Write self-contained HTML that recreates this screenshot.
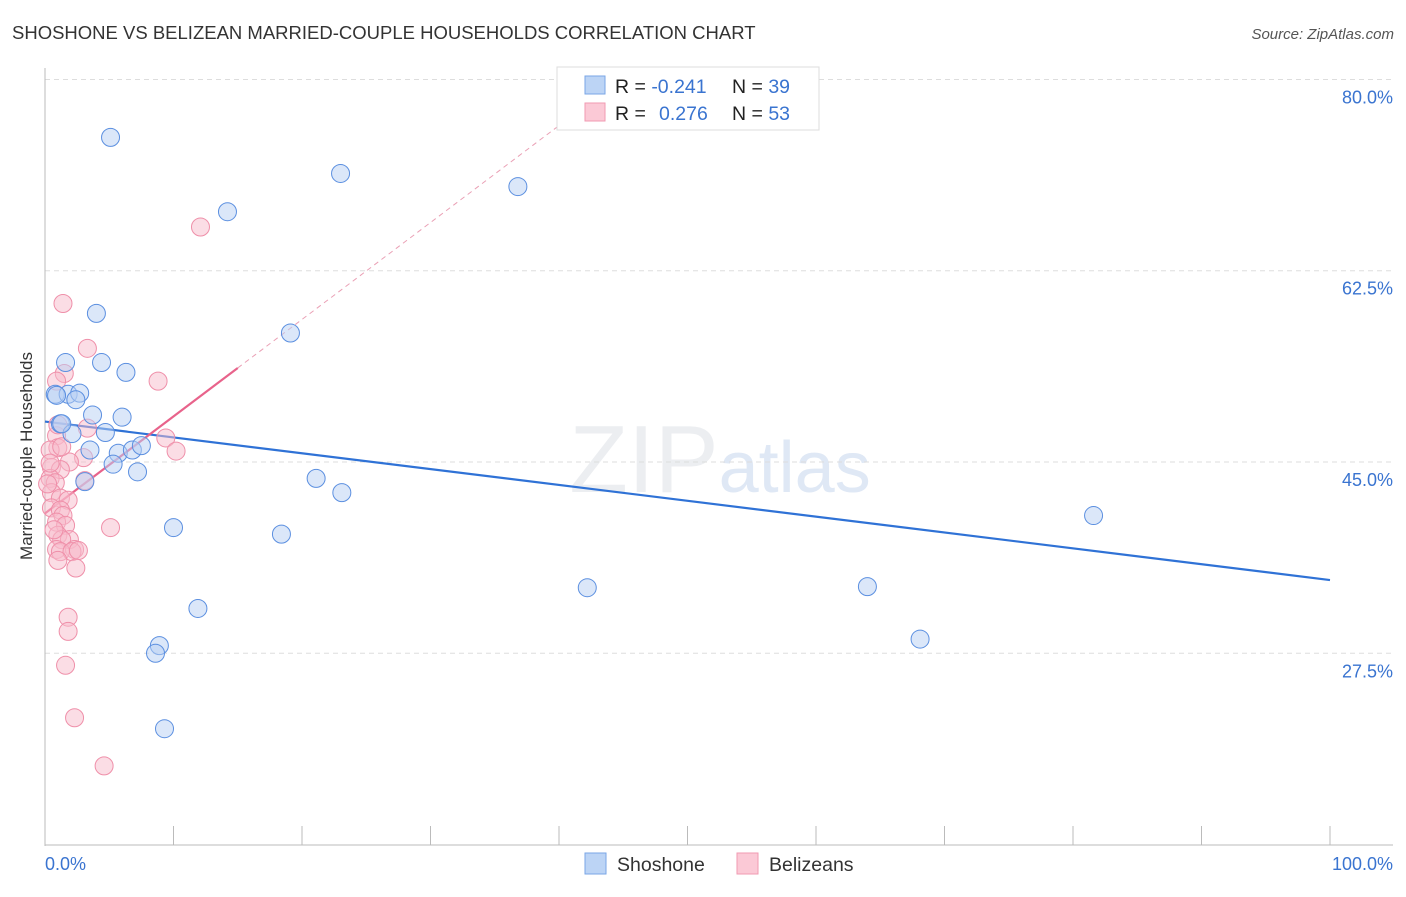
<!DOCTYPE html>
<html><head><meta charset="utf-8"><style>
body{margin:0;background:#fff;font-family:"Liberation Sans",sans-serif;}
svg text{font-family:"Liberation Sans",sans-serif;}
</style></head><body>
<svg id="chart" width="1406" height="892">
<text x="12" y="39" font-size="18.5" fill="#333">SHOSHONE VS BELIZEAN MARRIED-COUPLE HOUSEHOLDS CORRELATION CHART</text>
<text x="1394" y="39" font-size="15" fill="#555" font-style="italic" text-anchor="end">Source: ZipAtlas.com</text>
<text x="720" y="492" font-size="96" fill="#eceef1" text-anchor="middle" font-family="Liberation Serif">ZIP<tspan fill="#dfe8f5" font-family="Liberation Sans" font-size="72">atlas</tspan></text>
<g id="grid"></g>
<line x1="45" y1="68" x2="45" y2="846" stroke="#bbb"/>
<line x1="45" y1="845" x2="1393" y2="845" stroke="#bbb"/>
<text x="32" y="456" font-size="17" fill="#333" text-anchor="middle" transform="rotate(-90 32 456)">Married-couple Households</text>
<text x="45" y="870" font-size="18" fill="#3a74d0">0.0%</text>
<text x="1393" y="870" font-size="18" fill="#3a74d0" text-anchor="end">100.0%</text>
<g id="lines"></g><g id="pts"></g>
<g>
<rect x="557" y="67" width="262" height="63" fill="#fff" stroke="#ddd"/>
<rect x="585" y="76" width="20" height="18" fill="#bcd4f5" stroke="#7aa6e6"/>
<rect x="585" y="103" width="20" height="18" fill="#fbc9d6" stroke="#f09ab2"/>
<text x="615" y="93" font-size="19.5" fill="#222">R = <tspan fill="#3a74d0">-0.241</tspan><tspan x="732">N = </tspan><tspan fill="#3a74d0">39</tspan></text>
<text x="615" y="120" font-size="19.5" fill="#222">R = <tspan x="659" fill="#3a74d0">0.276</tspan><tspan x="732">N = </tspan><tspan fill="#3a74d0">53</tspan></text>
</g>
<g>
<rect x="585" y="853" width="21" height="21" fill="#bcd4f5" stroke="#7aa6e6"/>
<text x="617" y="871" font-size="19.5" fill="#333">Shoshone</text>
<rect x="737" y="853" width="21" height="21" fill="#fbc9d6" stroke="#f09ab2"/>
<text x="769" y="871" font-size="19.5" fill="#333">Belizeans</text>
</g>
</svg>
<script>
const yTicks=[80,62.5,45,27.5];
const blueX=[5.1,23.0,36.8,14.2,4.0,19.1,1.6,4.4,6.3,0.8,1.8,2.7,2.4,1.2,3.7,6.0,2.1,4.7,3.5,5.7,6.8,7.5,5.3,7.2,3.1,21.1,23.1,10.0,18.4,81.6,42.2,64.0,11.9,8.9,8.6,68.1,9.3,0.9,1.3];
const blueY=[74.7,71.4,70.2,67.9,58.6,56.8,54.1,54.1,53.2,51.2,51.2,51.3,50.7,48.5,49.3,49.1,47.6,47.7,46.1,45.8,46.1,46.5,44.8,44.1,43.2,43.5,42.2,39.0,38.4,40.1,33.5,33.6,31.6,28.2,27.5,28.8,20.6,51.1,48.5];
const pinkX=[1.4,12.1,3.3,8.8,1.5,0.9,9.4,10.2,3.0,1.9,3.3,0.9,1.0,0.4,0.5,1.2,0.4,0.8,0.5,1.2,1.8,0.5,1.2,1.4,0.9,1.6,5.1,1.0,1.9,1.3,2.3,0.9,1.2,2.1,2.6,2.4,1.8,1.8,1.6,2.3,4.6,0.2,0.4,1.0,1.3,3.1,0.7,1.0];
const pinkY=[59.5,66.5,55.4,52.4,53.1,52.4,47.2,46.0,45.4,45.0,48.1,47.4,46.3,46.1,44.5,44.3,43.5,43.1,42.2,41.7,41.5,40.8,40.6,40.1,39.5,39.2,39.0,38.3,37.9,37.9,37.0,37.0,36.8,36.8,36.9,35.3,30.8,29.5,26.4,21.6,17.2,43.0,44.9,48.4,46.4,43.3,38.8,36.0];
const blueFit=[48.7,34.2];
const pinkFit=[40.3,0.887];
const NS="http://www.w3.org/2000/svg";
const sx=v=>45+v*12.85, sy=v=>462-(v-45)*10.93;
function mk(t,a,p){const e=document.createElementNS(NS,t);for(const k in a)e.setAttribute(k,a[k]);p.appendChild(e);return e;}
const grid=document.getElementById('grid');
yTicks.forEach(t=>{
 const l=mk('line',{x1:45,x2:1393,y1:sy(t),y2:sy(t),stroke:'#ddd','stroke-dasharray':'5,4'},grid);
 
 
 const tx=mk('text',{x:1393,y:sy(t)+24,'font-size':18,fill:'#3a74d0','text-anchor':'end'},grid);
 tx.textContent=t.toFixed(1)+'%';
 
 
});
for(let i=1;i<=10;i++){
 const l=mk('line',{x1:sx(i*10),x2:sx(i*10),y1:826,y2:845,stroke:'#bbb'},grid);
 
 
}
const pts=document.getElementById('pts'),lines=document.getElementById('lines');
function dots(X,Y,f,s,n){X.forEach((x,i)=>{const c=mk('circle',{cx:sx(x),cy:sy(Y[i]),r:9,fill:f,stroke:s,'stroke-width':1,'fill-opacity':0.5},pts);
 
 });}
dots(pinkX,pinkY,'#f8bccb','#ef8fa9','belizean-point');
dots(blueX,blueY,'#b7d0f3','#5b8fe0','shoshone-point');
let b=mk('line',{x1:sx(0),y1:sy(blueFit[0]),x2:sx(100),y2:sy(blueFit[1]),stroke:'#2f72d6','stroke-width':2.2},lines);


let pd=mk('line',{x1:sx(15),y1:sy(pinkFit[0]+15*pinkFit[1]),x2:sx(42),y2:sy(pinkFit[0]+42*pinkFit[1]),stroke:'#eaa0b5','stroke-width':1,'stroke-dasharray':'5,4'},lines);


let p=mk('line',{x1:sx(0),y1:sy(pinkFit[0]),x2:sx(15),y2:sy(pinkFit[0]+15*pinkFit[1]),stroke:'#e8638b','stroke-width':2.2},lines);


</script>
</body></html>
